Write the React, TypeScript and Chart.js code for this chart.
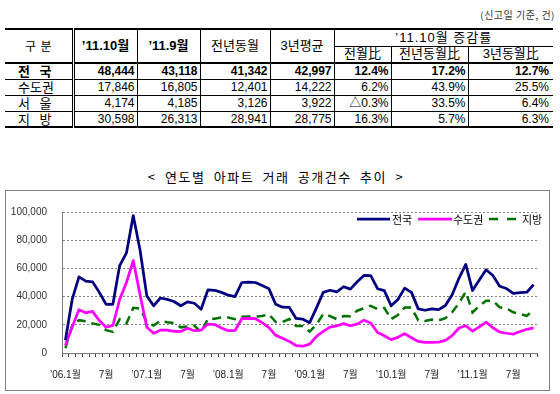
import React, { useEffect, useRef } from 'react';
import { Chart, registerables } from 'chart.js';

Chart.register(...registerables);

// ---------- chart data ----------
const months = [
  '06.01','06.02','06.03','06.04','06.05','06.06','06.07','06.08','06.09','06.10','06.11','06.12',
  '07.01','07.02','07.03','07.04','07.05','07.06','07.07','07.08','07.09','07.10','07.11','07.12',
  '08.01','08.02','08.03','08.04','08.05','08.06','08.07','08.08','08.09','08.10','08.11','08.12',
  '09.01','09.02','09.03','09.04','09.05','09.06','09.07','09.08','09.09','09.10','09.11','09.12',
  '10.01','10.02','10.03','10.04','10.05','10.06','10.07','10.08','10.09','10.10','10.11','10.12',
  '11.01','11.02','11.03','11.04','11.05','11.06','11.07','11.08','11.09','11.10',
];

const tickLabels = ['’06.1월','7월','’07.1월','7월','’08.1월','7월','’09.1월','7월','’10.1월','7월','’11.1월','7월'];

const nationwide = [
  9000, 38000, 54000, 51000, 50500, 43000, 34500, 34500, 62000, 71000,
  97500, 73000, 40500, 33500, 39000, 38000, 36500, 33500, 36300, 35300,
  31000, 44800, 44500, 43000, 41000, 40000, 50000, 50300, 50000, 47800,
  45500, 34500, 32500, 32300, 24500, 24000, 21500, 32000, 43000, 44500,
  43300, 47000, 45300, 50500, 55000, 54800, 45600, 44200, 33500, 38000,
  46000, 43000, 31300, 30300, 31300, 30800, 33700, 41342, 53000, 62800,
  44300, 51800, 59000, 55000, 47300, 45700, 42300, 42800, 43118, 48444,
];

const capital = [
  5500, 18500, 30700, 28500, 29500, 23000, 18300, 19500, 38000, 50000,
  65500, 41500, 18300, 14000, 16200, 16200, 15300, 15300, 17500, 15800,
  16200, 20500, 20200, 17800, 15800, 16000, 24300, 24500, 24300, 21500,
  18000, 12500, 10500, 8200, 5300, 4800, 6300, 11800, 15300, 18300,
  19300, 20800, 19300, 20500, 23300, 21300, 14500, 12200, 9500, 11100,
  13800, 10800, 8200, 7600, 7600, 7700, 9000, 12401, 17700, 19300,
  15500, 18500, 21900, 17900, 14900, 14000, 13400, 15200, 16805, 17846,
];

const provinces = [
  3500, 19500, 23300, 22500, 21000, 20000, 16200, 15000, 24000, 21000,
  32000, 31500, 22200, 19500, 22800, 21800, 21200, 18200, 18800, 19500,
  14800, 24300, 24300, 25200, 25200, 24000, 25700, 25800, 25700, 26300,
  27500, 22000, 22000, 24100, 19200, 19200, 15200, 20200, 27700, 26200,
  24000, 26200, 26000, 30000, 31700, 33500, 31100, 32000, 24000, 26900,
  32200, 32200, 23100, 22700, 23700, 23100, 24700, 28941, 35300, 43500,
  28800, 33300, 37100, 37100, 32400, 31700, 28900, 27600, 26313, 30598,
];

const seriesNames = ['전국', '수도권', '지방'];

// ---------- table data ----------
const rowLabels = ['전국', '수도권', '서울', '지방'];
const oct11 = [48444, 17846, 4174, 30598];
const sep11 = [43118, 16805, 4185, 26313];
const lastYear = [41342, 12401, 3126, 28941];
const avg3y = [42997, 14222, 3922, 28775];
const momRate = ['12.4%', '6.2%', '△0.3%', '16.3%'];
const yoyRate = ['17.2%', '43.9%', '33.5%', '5.7%'];
const y3Rate = ['12.7%', '25.5%', '6.4%', '6.3%'];

const FONT = '"Liberation Sans", "Noto Sans CJK KR", sans-serif';
const KFONT = '"Noto Sans CJK KR", sans-serif';

const fmt = (n: number) => n.toLocaleString('en-US');

const legendPlugin = {
  id: 'insideLegend',
  afterDraw(chart: any) {
    const ctx = chart.ctx;
    const y = 28;
    const items = [
      { x1: 351, x2: 384, tx: 386, dash: [] as number[] },
      { x1: 412, x2: 446, tx: 447, dash: [] as number[] },
      { x1: 483, x2: 510, tx: 516, dash: [9, 9] },
    ];
    ctx.save();
    chart.data.datasets.forEach((ds: any, i: number) => {
      const it = items[i];
      ctx.beginPath();
      ctx.strokeStyle = ds.borderColor;
      ctx.lineWidth = ds.borderWidth;
      ctx.lineCap = 'butt';
      ctx.setLineDash(it.dash);
      ctx.moveTo(it.x1, y);
      ctx.lineTo(it.x2, y);
      ctx.stroke();
      ctx.setLineDash([]);
      ctx.fillStyle = '#000';
      ctx.font = '11px ' + KFONT;
      ctx.textBaseline = 'middle';
      ctx.textAlign = 'left';
      ctx.fillText(ds.label, it.tx, y + 1);
    });
    ctx.restore();
  },
};

function Spread({ text, bold, pl, pr }: { text: string; bold?: boolean; pl: number; pr: number }) {
  return (
    <div style={{ display: 'flex', justifyContent: 'space-between', paddingLeft: pl, paddingRight: pr, fontWeight: bold ? 'bold' : 'normal', fontFamily: KFONT, lineHeight: '14px' }}>
      {text.split('').map((c, i) => (
        <span key={i}>{c}</span>
      ))}
    </div>
  );
}

export default function App() {
  const ref = useRef<HTMLCanvasElement>(null);

  useEffect(() => {
    if (!ref.current) return;
    const chart = new Chart(ref.current, {
      type: 'line',
      data: {
        labels: months,
        datasets: [
          { label: seriesNames[0], data: nationwide, borderColor: '#000080', borderWidth: 2.75, pointRadius: 0, tension: 0, borderJoinStyle: 'round', fill: false },
          { label: seriesNames[1], data: capital, borderColor: '#FF00FF', borderWidth: 2.75, pointRadius: 0, tension: 0, borderJoinStyle: 'round', fill: false },
          { label: seriesNames[2], data: provinces, borderColor: '#007000', borderWidth: 2.5, borderDash: [9, 6], pointRadius: 0, tension: 0, fill: false },
        ],
      },
      options: {
        animation: false,
        responsive: false,
        events: [],
        layout: { padding: { top: 6, right: 12, left: 0, bottom: 0 } },
        plugins: { legend: { display: false }, tooltip: { enabled: false }, title: { display: false } },
        scales: {
          x: {
            type: 'category',
            offset: true,
            grid: { offset: true, drawOnChartArea: false, drawTicks: true, tickLength: 4, color: '#404040' },
            border: { display: true, color: '#808080', width: 1 },
            ticks: {
              autoSkip: false,
              maxRotation: 0,
              minRotation: 0,
              padding: 12,
              color: '#222',
              font: { family: FONT, size: 10 },
              callback: (_v: any, i: number) => (i % 6 === 0 ? tickLabels[i / 6] : ''),
            },
            afterFit: (s: any) => { s.height = 37; },
          },
          y: {
            min: 0,
            max: 100000,
            grid: { color: '#808080', drawTicks: false, lineWidth: 1 },
            border: { display: true, color: '#808080', width: 1, dash: [2, 2] },
            ticks: {
              stepSize: 20000,
              padding: 15,
              color: '#333',
              font: { family: FONT, size: 10 },
              callback: (v: any) => fmt(Number(v)),
            },
            afterFit: (s: any) => { s.width = 56; },
          },
        },
      },
      plugins: [legendPlugin],
    } as any);
    return () => chart.destroy();
  }, []);

  const bd = '1px solid #000';
  const cellBase: React.CSSProperties = { padding: 0, borderLeft: bd, borderRight: bd, borderBottom: bd, fontFamily: FONT, fontSize: 12, lineHeight: '14px', color: '#000', whiteSpace: 'nowrap', overflow: 'hidden' };
  const num: React.CSSProperties = { ...cellBase, textAlign: 'right', paddingRight: 2 };
  const first: React.CSSProperties = { ...cellBase, borderLeft: 'none', borderRight: '3px double #000' };
  const th: React.CSSProperties = { ...cellBase, textAlign: 'center', fontWeight: 'normal' };

  return (
    <div style={{ position: 'absolute', left: 0, top: 0, width: 560, height: 394, background: '#fff', overflow: 'hidden', fontFamily: FONT }}>
      <div style={{ position: 'absolute', right: 5, top: 8, fontSize: 10, lineHeight: '14px', color: '#333', fontFamily: KFONT, letterSpacing: 0.5 }}>
        (신고일 기준, 건)
      </div>

      <table style={{ position: 'absolute', left: 5, top: 28, width: 548, borderCollapse: 'collapse', tableLayout: 'fixed', borderTop: '2px solid #000', borderBottom: '2px solid #000' }}>
        <colgroup>
          <col style={{ width: 68 }} />
          <col style={{ width: 64 }} />
          <col style={{ width: 63 }} />
          <col style={{ width: 70 }} />
          <col style={{ width: 64 }} />
          <col style={{ width: 57 }} />
          <col style={{ width: 77 }} />
          <col style={{ width: 85 }} />
        </colgroup>
        <thead>
          <tr style={{ height: 17 }}>
            <th rowSpan={2} style={{ ...first, borderBottom: '2px solid #000', fontWeight: 'normal' }}>
              <Spread text="구분" pl={20} pr={20} />
            </th>
            <th rowSpan={2} style={{ ...th, fontWeight: 'bold', fontSize: 13, borderBottom: '2px solid #000' }}>’11.10월</th>
            <th rowSpan={2} style={{ ...th, fontWeight: 'bold', fontSize: 13, borderBottom: '2px solid #000' }}>’11.9월</th>
            <th rowSpan={2} style={{ ...th, fontSize: 13, borderBottom: '2px solid #000' }}>전년동월</th>
            <th rowSpan={2} style={{ ...th, fontSize: 13, borderBottom: '2px solid #000' }}>3년평균</th>
            <th colSpan={3} style={{ ...th, fontSize: 13, borderRight: 'none', letterSpacing: 1 }}>’11.10월 증감률</th>
          </tr>
          <tr style={{ height: 17 }}>
            <th style={{ ...th, fontSize: 13, borderBottom: '2px solid #000' }}>전월比</th>
            <th style={{ ...th, fontSize: 13, borderBottom: '2px solid #000' }}>전년동월比</th>
            <th style={{ ...th, fontSize: 13, borderBottom: '2px solid #000', borderRight: 'none' }}>3년동월比</th>
          </tr>
        </thead>
        <tbody>
          {rowLabels.map((lab, i) => {
            const b = i === 0;
            const w: React.CSSProperties = { fontWeight: b ? 'bold' : 'normal' };
            return (
              <tr key={lab} style={{ height: 16 }}>
                <td style={{ ...first, fontSize: 13 }}>
                  <Spread text={lab} bold={b} pl={13} pr={20} />
                </td>
                <td style={{ ...num, ...w }}>{fmt(oct11[i])}</td>
                <td style={{ ...num, ...w }}>{fmt(sep11[i])}</td>
                <td style={{ ...num, ...w }}>{fmt(lastYear[i])}</td>
                <td style={{ ...num, ...w }}>{fmt(avg3y[i])}</td>
                <td style={{ ...num, ...w }}>{momRate[i]}</td>
                <td style={{ ...num, ...w }}>{yoyRate[i]}</td>
                <td style={{ ...num, ...w, borderRight: 'none', paddingRight: 4 }}>{y3Rate[i]}</td>
              </tr>
            );
          })}
        </tbody>
      </table>

      <div style={{ position: 'absolute', left: 0, width: 552, top: 168, textAlign: 'center', fontSize: 13, lineHeight: '18px', fontFamily: KFONT, letterSpacing: 1.5, wordSpacing: 4, color: '#000' }}>
        &lt; 연도별 아파트 거래 공개건수 추이 &gt;
      </div>

      <div style={{ position: 'absolute', left: 5, top: 190, width: 543, height: 199, border: '1px solid #808080' }}>
        <canvas ref={ref} width={543} height={199} style={{ display: 'block' }} />
      </div>
    </div>
  );
}
